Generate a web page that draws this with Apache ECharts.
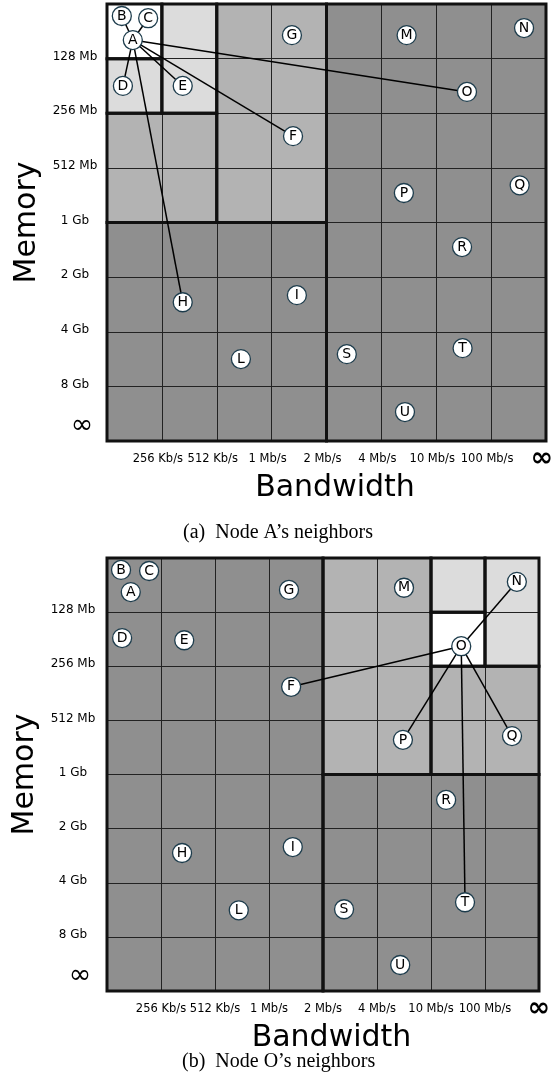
<!DOCTYPE html>
<html>
<head>
<meta charset="utf-8">
<script src="https://cdn.jsdelivr.net/npm/echarts@6/dist/echarts.min.js"></script>
<style>
html,body{margin:0;padding:0;background:#fff;}
#chart{width:557px;height:1092px;}
</style>
</head>
<body>
<div id="chart"></div>
<script>
// ---- data ----
const xTickLabels = ['', '256 Kb/s', '512 Kb/s', '1 Mb/s', '2 Mb/s', '4 Mb/s', '10 Mb/s', '100 Mb/s', '∞'];
const yTickLabels = ['', '128 Mb', '256 Mb', '512 Mb', '1 Gb', '2 Gb', '4 Gb', '8 Gb', '∞'];
const xAxisTitle = 'Bandwidth';
const yAxisTitle = 'Memory';
const captions = ['(a)  Node A’s neighbors', '(b)  Node O’s neighbors'];

const nodeNames = ['A','B','C','D','E','F','G','H','I','L','M','N','O','P','Q','R','S','T','U'];
// panel (a) node positions (bandwidth cell units, memory cell units)
const nodeXA = [0.47,0.27,0.75,0.29,1.38,3.39,3.37,1.38,3.46,2.44,5.46,7.60,6.56,5.41,7.52,6.47,4.37,6.48,5.43];
const nodeYA = [0.66,0.22,0.26,1.50,1.50,2.42,0.57,5.46,5.33,6.50,0.57,0.44,1.61,3.46,3.32,4.45,6.41,6.30,7.47];
// panel (b) node positions
const nodeXB = [0.44,0.26,0.78,0.28,1.43,3.41,3.37,1.39,3.44,2.44,5.50,7.59,6.56,5.48,7.50,6.28,4.39,6.63,5.43];
const nodeYB = [0.63,0.22,0.24,1.48,1.52,2.38,0.59,5.45,5.34,6.51,0.55,0.44,1.63,3.36,3.29,4.47,6.49,6.36,7.52];

const edgesA = [['A','B'],['A','C'],['A','D'],['A','E'],['A','F'],['A','H'],['A','O']];
const edgesB = [['O','N'],['O','F'],['O','P'],['O','Q'],['O','T']];

// regions: [x0, y0, x1, y1, shadeLevel]  (0 = far, 3 = own cell)
const regionsA = [[4,0,8,8,0],[0,4,4,8,0],[2,0,4,4,1],[0,2,2,4,1],[1,0,2,2,2],[0,1,1,2,2],[0,0,1,1,3]];
const regionsB = [[0,0,4,8,0],[4,4,8,8,0],[4,0,6,4,1],[6,2,8,4,1],[7,0,8,2,2],[6,0,7,1,2],[6,1,7,2,3]];

// ---- styles ----
const shades = ['#8f8f8f', '#b3b3b3', '#dcdcdc', '#ffffff'];
const sans = '"DejaVu Sans", Verdana, sans-serif';
const serif = '"Liberation Serif", "Times New Roman", serif';

const chart = echarts.init(document.getElementById('chart'), null, {renderer: 'canvas'});

const grids = [
  {left: 107, top: 4, width: 439, height: 437, containLabel: false, outerBoundsMode: 'none'},
  {left: 107, top: 558, width: 432, height: 433, containLabel: false, outerBoundsMode: 'none'}
];

function xAxisFor(i, shift) {
  return {
    type: 'value', gridIndex: i, min: 0, max: 8, interval: 1, z: 3,
    axisLine: {show: false}, axisTick: {show: false},
    splitLine: {show: true, lineStyle: {color: '#222', width: 1}},
    axisLabel: {
      show: true, showMinLabel: true, showMaxLabel: true, margin: 12, hideOverlap: false,
      fontSize: 11.5, fontFamily: sans, color: '#000', lineHeight: 12,
      padding: [0, shift, 0, 0],
      formatter: v => { const s = xTickLabels[Math.round(v)]; return s === '∞' ? '{inf|∞}' : s; },
      rich: {inf: {fontSize: 27, fontWeight: 'bold', fontFamily: sans, color: '#000', lineHeight: 12}}
    },
    name: xAxisTitle, nameLocation: 'middle', nameGap: 25,
    nameTextStyle: {fontSize: 30, fontFamily: sans, color: '#000', padding: [0, 0, 0, 17]}
  };
}
function yAxisFor(i, margin) {
  return {
    type: 'value', gridIndex: i, min: 0, max: 8, interval: 1, inverse: true, z: 3,
    axisLine: {show: false}, axisTick: {show: false},
    splitLine: {show: true, lineStyle: {color: '#222', width: 1}},
    axisLabel: {
      show: true, showMinLabel: true, showMaxLabel: true, margin: margin, align: 'center', hideOverlap: false,
      fontSize: 12, fontFamily: sans, color: '#000', padding: [0, 0, 4, 0],
      formatter: v => { const s = yTickLabels[Math.round(v)]; return s === '∞' ? '{inf|∞}' : s; },
      rich: {inf: {fontSize: 27, fontFamily: sans, color: '#000', lineHeight: 12, padding: [0, 0, 26, 14]}}
    },
    name: yAxisTitle, nameLocation: 'middle', nameGap: 62, nameRotate: 90,
    nameTextStyle: {fontSize: 30, fontFamily: sans, color: '#000'}
  };
}

function regionSeries(i, regions) {
  return {
    type: 'custom', xAxisIndex: i, yAxisIndex: i, z: 1, silent: true,
    data: regions,
    encode: {x: [0, 2], y: [1, 3]},
    renderItem: (params, api) => {
      const p0 = api.coord([api.value(0), api.value(1)]);
      const p1 = api.coord([api.value(2), api.value(3)]);
      return {
        type: 'rect',
        shape: {x: Math.min(p0[0], p1[0]), y: Math.min(p0[1], p1[1]),
                width: Math.abs(p1[0] - p0[0]), height: Math.abs(p1[1] - p0[1])},
        style: {fill: shades[api.value(4)], stroke: 'none'}
      };
    }
  };
}
function borderSeries(i, regions) {
  return {
    type: 'custom', xAxisIndex: i, yAxisIndex: i, z: 4, silent: true,
    data: regions,
    encode: {x: [0, 2], y: [1, 3]},
    renderItem: (params, api) => {
      const p0 = api.coord([api.value(0), api.value(1)]);
      const p1 = api.coord([api.value(2), api.value(3)]);
      return {
        type: 'rect',
        shape: {x: Math.min(p0[0], p1[0]), y: Math.min(p0[1], p1[1]),
                width: Math.abs(p1[0] - p0[0]), height: Math.abs(p1[1] - p0[1])},
        style: {fill: 'none', stroke: '#111', lineWidth: 3}
      };
    }
  };
}
function edgeSeries(i, edges, xs, ys) {
  const idx = n => nodeNames.indexOf(n);
  return {
    type: 'lines', coordinateSystem: 'cartesian2d', xAxisIndex: i, yAxisIndex: i, z: 5, silent: true,
    lineStyle: {color: '#000', width: 1.5, opacity: 1},
    data: edges.map(e => ({coords: [[xs[idx(e[0])], ys[idx(e[0])]], [xs[idx(e[1])], ys[idx(e[1])]]]}))
  };
}
function nodeSeries(i, xs, ys) {
  return {
    type: 'scatter', xAxisIndex: i, yAxisIndex: i, z: 6, silent: true,
    symbol: 'circle', symbolSize: 19,
    itemStyle: {color: '#fff', borderColor: '#1d3c4c', borderWidth: 1.3, opacity: 1},
    label: {show: true, position: 'inside', formatter: '{b}', fontSize: 14, fontFamily: sans, color: '#000'},
    data: nodeNames.map((n, k) => ({name: n, value: [xs[k], ys[k]]}))
  };
}

chart.setOption({
  animation: false,
  backgroundColor: '#fff',
  grid: grids,
  xAxis: [xAxisFor(0, 8), xAxisFor(1, 0)],
  yAxis: [yAxisFor(0, 32), yAxisFor(1, 34)],
  graphic: [
    {type: 'text', left: 183, top: 523, style: {text: captions[0], font: '20px ' + serif, fill: '#000'}},
    {type: 'text', left: 182, top: 1052, style: {text: captions[1], font: '20px ' + serif, fill: '#000'}}
  ],
  series: [
    regionSeries(0, regionsA), borderSeries(0, regionsA), edgeSeries(0, edgesA, nodeXA, nodeYA), nodeSeries(0, nodeXA, nodeYA),
    regionSeries(1, regionsB), borderSeries(1, regionsB), edgeSeries(1, edgesB, nodeXB, nodeYB), nodeSeries(1, nodeXB, nodeYB)
  ]
});
</script>
</body>
</html>
